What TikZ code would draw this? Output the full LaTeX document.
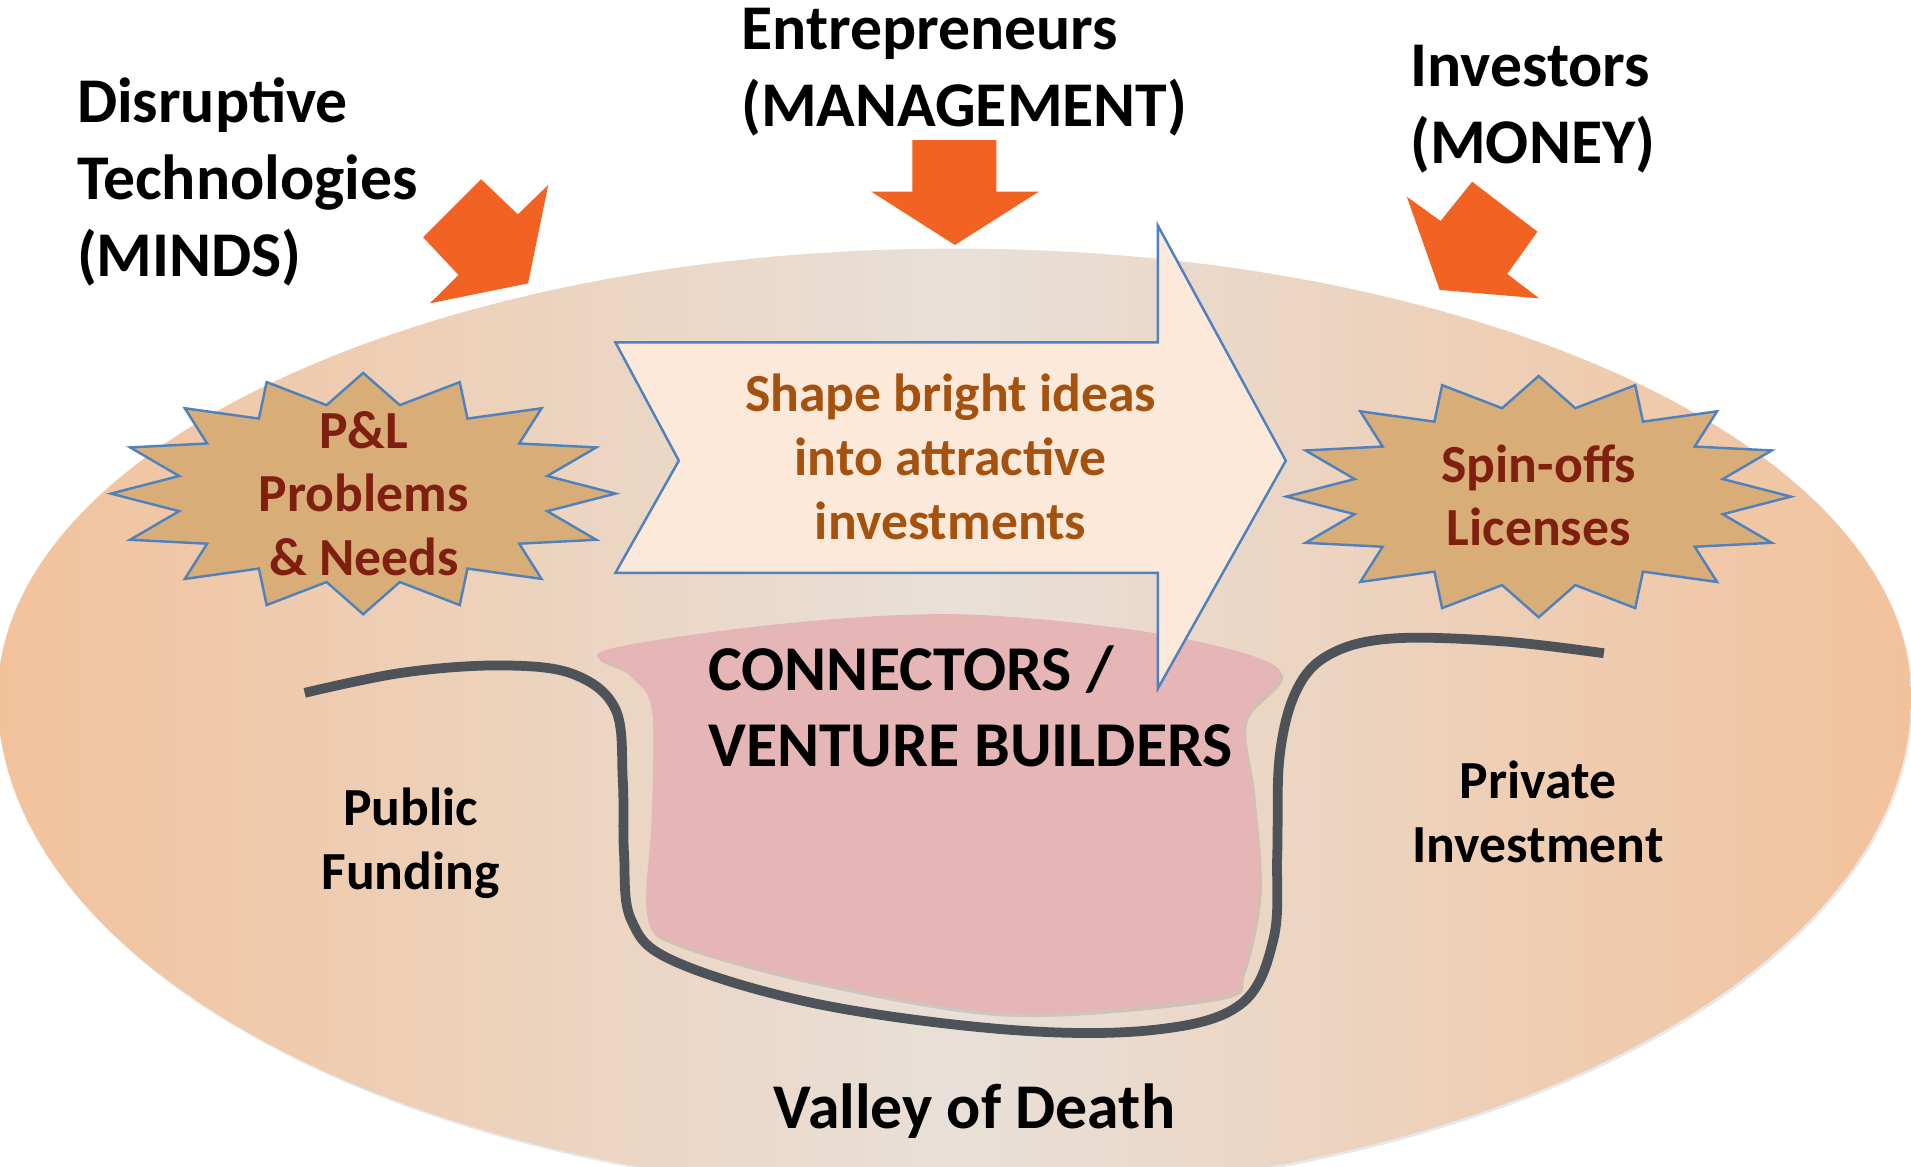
\documentclass[tikz,border=0pt]{standalone}
\usepackage{fontspec}
\setmainfont{Carlito}
\usetikzlibrary{shadows}
\definecolor{ellEdge}{HTML}{F2C29B}
\definecolor{ellMid}{HTML}{E8E0D9}
\definecolor{arrOrange}{HTML}{F26222}
\definecolor{starFill}{HTML}{D9AD78}
\definecolor{blueLine}{HTML}{4F81BD}
\definecolor{bigArrFill}{HTML}{FDE9DA}
\definecolor{pinkFill}{HTML}{E6B5B6}
\definecolor{valleyGray}{HTML}{4D5358}
\definecolor{darkRed}{HTML}{7F1F0F}
\definecolor{brownText}{HTML}{A5520F}
\tikzset{
  toplabel/.style={font=\bfseries\fontsize{52.3}{63}\selectfont, align=left, inner sep=0pt, text=black},
  startext/.style={font=\bfseries\fontsize{44}{52}\selectfont, align=center, inner sep=0pt, text=darkRed},
  midtext/.style={font=\bfseries\fontsize{44}{52.5}\selectfont, align=center, inner sep=0pt, text=brownText},
  sidetext/.style={font=\bfseries\fontsize{44}{53}\selectfont, align=center, inner sep=0pt, text=black},
  bigtext/.style={font=\bfseries\fontsize{52.4}{63}\selectfont, align=left, inner sep=0pt, text=black},
  orangearrow/.style={fill=arrOrange, draw=none},
  starshape/.style={fill=starFill, draw=blueLine, line width=2, line join=miter},
  bigarrow/.style={fill=bigArrFill, draw=blueLine, line width=2, line join=miter},
}
\begin{document}
\begin{tikzpicture}[x=1pt, y=-1pt]
\clip (0,0) rectangle (1568,957);
\fill[white] (0,0) rectangle (1568,957);
% background egg-shaped ellipse (upper half flatter than lower half)
\shade[left color=ellEdge, right color=ellEdge, middle color=ellMid,
  drop shadow={shadow xshift=1.5pt, shadow yshift=-2pt, opacity=0.18}]
  (-2,572) arc[start angle=180, end angle=360, x radius=785, y radius=368]
           arc[start angle=0, end angle=180, x radius=785, y radius=408] -- cycle;
% orange arrows
\fill[orangearrow] (394.8,147.1) -- (424.9,175.9) -- (449.8,151.8) -- (433.3,232.5) -- (352.7,248.9) -- (376.2,225.6) -- (347.2,194.7) -- cycle;
\fill[orangearrow] (748.7,114.9) -- (817.5,114.9) -- (817.5,157.3) -- (852.3,157.3) -- (783.5,201) -- (715,157.3) -- (748.7,157.3) -- cycle;
\fill[orangearrow] (1154.3,161.4) -- (1182,181.3) -- (1207.9,149.1) -- (1261.5,190.1) -- (1236.7,224.8) -- (1262.9,244.8) -- (1181.3,237.9) -- cycle;
% pink venture builder shape
\fill[pinkFill, drop shadow={shadow xshift=2pt, shadow yshift=-3pt, opacity=0.25}] plot[smooth cycle, tension=0.55] coordinates {
  (495.5,533.7) (640,512) (789.8,504.1) (950,520) (1048.8,548.6) (1021.4,590) (1028,650) (1033.2,729.3) (1020,795) (997.8,818.1)
  (829.1,831.4) (672.1,806.3) (554.4,773.7) (530.9,750) (534.7,670) (534.7,581.2) (515.1,551.5)};
% valley line
\draw[valleyGray, line width=8, line cap=butt] plot[smooth, tension=0.6] coordinates {
  (250,568.5) (330,552) (410,546) (470,553) (505,582) (511,640) (512,700) (518,755) (554,789) (672,824) (829,845)
  (947,845) (1018,824) (1045,770) (1048,700) (1050,620) (1064,566) (1091,537) (1141,524) (1230,526) (1316,536)};
% big arrow
\draw[bigarrow] (505,281) -- (950,281) -- (950,185) -- (1055,378) -- (950,565) -- (950,470) -- (505,470) -- (557,378) -- cycle;
% stars
\begin{scope}[shift={(298,405)}]
\draw[starshape] (0:207 and 99) \foreach \k in {1,...,31}{ -- ({\k*11.25}:{154+53*(1-mod(\k,2))} and {74+25*(1-mod(\k,2))}) } -- cycle;
\end{scope}
\begin{scope}[shift={(1262.5,407.5)}]
\draw[starshape] (0:207 and 99) \foreach \k in {1,...,31}{ -- ({\k*11.25}:{154+53*(1-mod(\k,2))} and {74+25*(1-mod(\k,2))}) } -- cycle;
\end{scope}
% texts (anchor base = baseline of the last line)
\node[toplabel, anchor=base west] (minds) at (63,226.5) {Disruptive\\Technologies\\(MINDS)};
\node[toplabel, anchor=base west] (mgmt) at (608,104) {Entrepreneurs\\(MANAGEMENT)};
\node[toplabel, anchor=base west] (money) at (1157,134) {Investors\\(MONEY)};
\node[startext, anchor=base] (pl) at (298.5,471.8) {P\&L\\Problems\\\& Needs};
\node[startext, anchor=base] (spin) at (1262.6,447.5) {Spin-offs\\Licenses};
\node[midtext, anchor=base] (shape) at (780,443) {Shape bright ideas\\into attractive\\investments};
\node[bigtext, anchor=base west] (conn) at (581,629.2) {CONNECTORS /\\VENTURE BUILDERS};
\node[sidetext, anchor=base] (public) at (337,730) {Public\\Funding};
\node[sidetext, anchor=base] (private) at (1262,708) {Private\\Investment};
\node[font=\bfseries\fontsize{52.3}{63}\selectfont, inner sep=0pt, anchor=base] (valley) at (799.6,926.2) {Valley of Death};
\end{tikzpicture}
\end{document}
